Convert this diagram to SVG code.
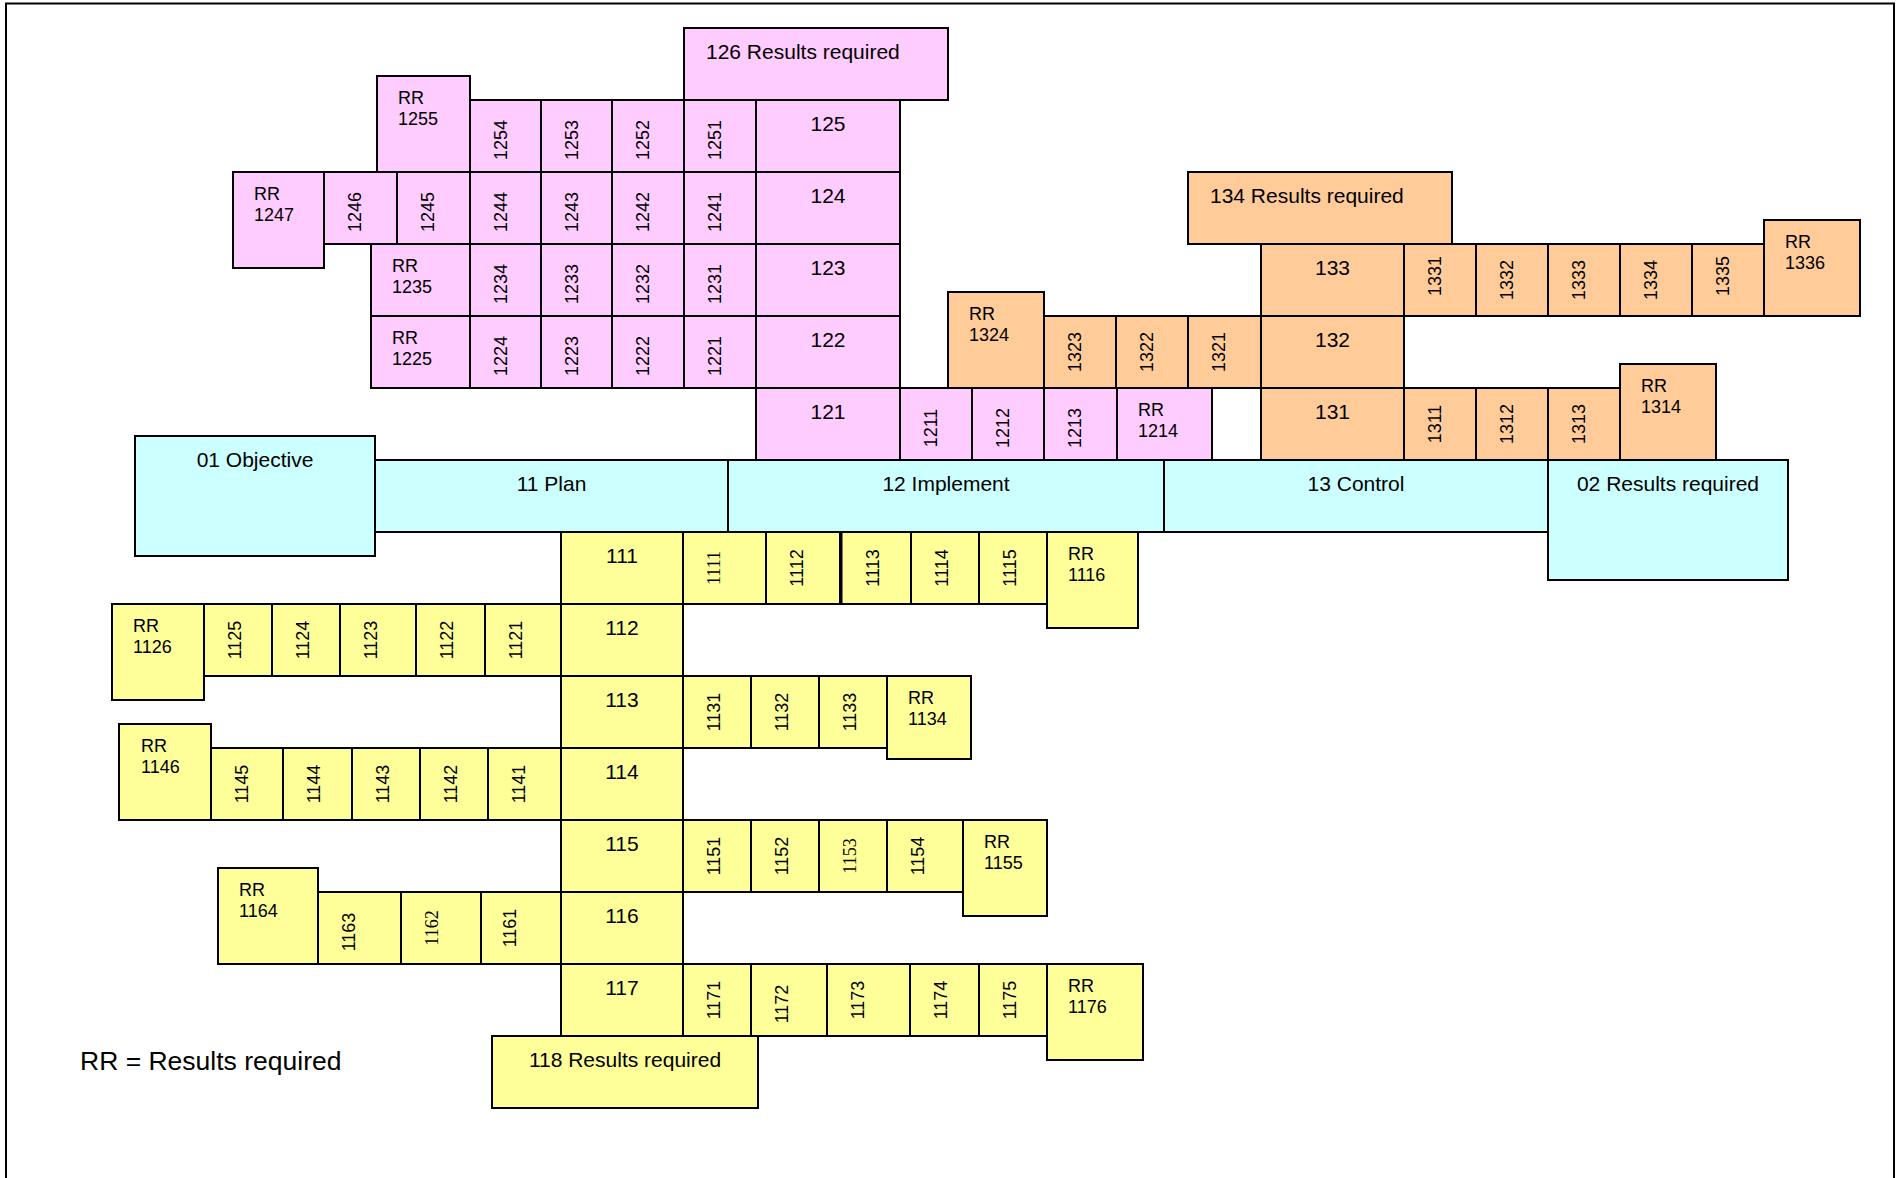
<svg xmlns="http://www.w3.org/2000/svg" width="1898" height="1178" viewBox="0 0 1898 1178">
<style>
rect{stroke:#000;stroke-width:2}
rect.bg{stroke:none;fill:#fff}
.p{fill:#FFCCFF}.o{fill:#FFCC99}.y{fill:#FFFF99}.c{fill:#CCFFFF}
text{font-family:"Liberation Sans",Arial,sans-serif;fill:#000}
.t{font-size:21px;text-anchor:middle}
.l{font-size:21px}
.r{font-size:18px}
.v{font-size:18px;text-anchor:middle}
.s{font-family:"Liberation Serif","Times New Roman",serif}
</style>
<rect class="bg" width="1898" height="1178"/>
<path d="M6,1178 V3.5 H1894 V1178" fill="none" stroke="#000" stroke-width="2"/>
<g id="connectors"/>

<!-- Pink: 12 Implement branch -->
<g id="n126"><rect class="p" x="684" y="28" width="264" height="72"/><text class="l" x="706" y="59">126 Results required</text></g>
<g id="n125"><rect class="p" x="756" y="100" width="144" height="72"/><text class="t" x="828" y="131">125</text></g>
<g id="n124"><rect class="p" x="756" y="172" width="144" height="72"/><text class="t" x="828" y="203">124</text></g>
<g id="n123"><rect class="p" x="756" y="244" width="144" height="72"/><text class="t" x="828" y="275">123</text></g>
<g id="n122"><rect class="p" x="756" y="316" width="144" height="72"/><text class="t" x="828" y="347">122</text></g>
<g id="n121"><rect class="p" x="756" y="388" width="144" height="72"/><text class="t" x="828" y="419">121</text></g>

<g id="n1251"><rect class="p" x="684" y="100" width="72" height="72"/><text class="v" x="721" y="140" transform="rotate(-90 721 140)">1251</text></g>
<g id="n1252"><rect class="p" x="612" y="100" width="72" height="72"/><text class="v" x="649" y="140" transform="rotate(-90 649 140)">1252</text></g>
<g id="n1253"><rect class="p" x="541" y="100" width="71" height="72"/><text class="v" x="578" y="140" transform="rotate(-90 578 140)">1253</text></g>
<g id="n1254"><rect class="p" x="470" y="100" width="71" height="72"/><text class="v" x="507" y="140" transform="rotate(-90 507 140)">1254</text></g>
<g id="n1255"><rect class="p" x="377" y="76" width="93" height="96"/><text class="r" x="398" y="104">RR</text><text class="r" x="398" y="125">1255</text></g>

<g id="n1241"><rect class="p" x="684" y="172" width="72" height="72"/><text class="v" x="721" y="212" transform="rotate(-90 721 212)">1241</text></g>
<g id="n1242"><rect class="p" x="612" y="172" width="72" height="72"/><text class="v" x="649" y="212" transform="rotate(-90 649 212)">1242</text></g>
<g id="n1243"><rect class="p" x="541" y="172" width="71" height="72"/><text class="v" x="578" y="212" transform="rotate(-90 578 212)">1243</text></g>
<g id="n1244"><rect class="p" x="470" y="172" width="71" height="72"/><text class="v" x="507" y="212" transform="rotate(-90 507 212)">1244</text></g>
<g id="n1245"><rect class="p" x="397" y="172" width="73" height="72"/><text class="v" x="434" y="212" transform="rotate(-90 434 212)">1245</text></g>
<g id="n1246"><rect class="p" x="324" y="172" width="73" height="72"/><text class="v" x="361" y="212" transform="rotate(-90 361 212)">1246</text></g>
<g id="n1247"><rect class="p" x="233" y="172" width="91" height="96"/><text class="r" x="254" y="200">RR</text><text class="r" x="254" y="221">1247</text></g>

<g id="n1231"><rect class="p" x="684" y="244" width="72" height="72"/><text class="v" x="721" y="284" transform="rotate(-90 721 284)">1231</text></g>
<g id="n1232"><rect class="p" x="612" y="244" width="72" height="72"/><text class="v" x="649" y="284" transform="rotate(-90 649 284)">1232</text></g>
<g id="n1233"><rect class="p" x="541" y="244" width="71" height="72"/><text class="v" x="578" y="284" transform="rotate(-90 578 284)">1233</text></g>
<g id="n1234"><rect class="p" x="470" y="244" width="71" height="72"/><text class="v" x="507" y="284" transform="rotate(-90 507 284)">1234</text></g>
<g id="n1235"><rect class="p" x="371" y="244" width="99" height="72"/><text class="r" x="392" y="272">RR</text><text class="r" x="392" y="293">1235</text></g>

<g id="n1221"><rect class="p" x="684" y="316" width="72" height="72"/><text class="v" x="721" y="356" transform="rotate(-90 721 356)">1221</text></g>
<g id="n1222"><rect class="p" x="612" y="316" width="72" height="72"/><text class="v" x="649" y="356" transform="rotate(-90 649 356)">1222</text></g>
<g id="n1223"><rect class="p" x="541" y="316" width="71" height="72"/><text class="v" x="578" y="356" transform="rotate(-90 578 356)">1223</text></g>
<g id="n1224"><rect class="p" x="470" y="316" width="71" height="72"/><text class="v" x="507" y="356" transform="rotate(-90 507 356)">1224</text></g>
<g id="n1225"><rect class="p" x="371" y="316" width="99" height="72"/><text class="r" x="392" y="344">RR</text><text class="r" x="392" y="365">1225</text></g>

<g id="n1211"><rect class="p" x="900" y="388" width="72" height="72"/><text class="v" x="937" y="428" transform="rotate(-90 937 428)">1211</text></g>
<g id="n1212"><rect class="p" x="972" y="388" width="72" height="72"/><text class="v" x="1009" y="428" transform="rotate(-90 1009 428)">1212</text></g>
<g id="n1213"><rect class="p" x="1044" y="388" width="73" height="72"/><text class="v" x="1081" y="428" transform="rotate(-90 1081 428)">1213</text></g>
<g id="n1214"><rect class="p" x="1117" y="388" width="95" height="72"/><text class="r" x="1138" y="416">RR</text><text class="r" x="1138" y="437">1214</text></g>

<!-- Orange: 13 Control branch -->
<g id="n134"><rect class="o" x="1188" y="172" width="264" height="72"/><text class="l" x="1210" y="203">134 Results required</text></g>
<g id="n133"><rect class="o" x="1261" y="244" width="143" height="72"/><text class="t" x="1332.5" y="275">133</text></g>
<g id="n132"><rect class="o" x="1261" y="316" width="143" height="72"/><text class="t" x="1332.5" y="347">132</text></g>
<g id="n131"><rect class="o" x="1261" y="388" width="143" height="72"/><text class="t" x="1332.5" y="419">131</text></g>

<g id="n1331"><rect class="o" x="1404" y="244" width="72" height="72"/><text class="v" x="1441" y="276" transform="rotate(-90 1441 276)">1331</text></g>
<g id="n1332"><rect class="o" x="1476" y="244" width="72" height="72"/><text class="v" x="1513" y="280" transform="rotate(-90 1513 280)">1332</text></g>
<g id="n1333"><rect class="o" x="1548" y="244" width="72" height="72"/><text class="v" x="1585" y="280" transform="rotate(-90 1585 280)">1333</text></g>
<g id="n1334"><rect class="o" x="1620" y="244" width="72" height="72"/><text class="v" x="1657" y="280" transform="rotate(-90 1657 280)">1334</text></g>
<g id="n1335"><rect class="o" x="1692" y="244" width="72" height="72"/><text class="v" x="1729" y="276" transform="rotate(-90 1729 276)">1335</text></g>
<g id="n1336"><rect class="o" x="1764" y="220" width="96" height="96"/><text class="r" x="1785" y="248">RR</text><text class="r" x="1785" y="269">1336</text></g>

<g id="n1321"><rect class="o" x="1188" y="316" width="73" height="72"/><text class="v" x="1225" y="352" transform="rotate(-90 1225 352)">1321</text></g>
<g id="n1322"><rect class="o" x="1116" y="316" width="72" height="72"/><text class="v" x="1153" y="352" transform="rotate(-90 1153 352)">1322</text></g>
<g id="n1323"><rect class="o" x="1044" y="316" width="72" height="72"/><text class="v" x="1081" y="352" transform="rotate(-90 1081 352)">1323</text></g>
<g id="n1324"><rect class="o" x="948" y="292" width="96" height="96"/><text class="r" x="969" y="320">RR</text><text class="r" x="969" y="341">1324</text></g>

<g id="n1311"><rect class="o" x="1404" y="388" width="72" height="72"/><text class="v" x="1441" y="424" transform="rotate(-90 1441 424)">1311</text></g>
<g id="n1312"><rect class="o" x="1476" y="388" width="72" height="72"/><text class="v" x="1513" y="424" transform="rotate(-90 1513 424)">1312</text></g>
<g id="n1313"><rect class="o" x="1548" y="388" width="72" height="72"/><text class="v" x="1585" y="424" transform="rotate(-90 1585 424)">1313</text></g>
<g id="n1314"><rect class="o" x="1620" y="364" width="96" height="96"/><text class="r" x="1641" y="392">RR</text><text class="r" x="1641" y="413">1314</text></g>

<!-- Cyan: main band -->
<g id="n01"><rect class="c" x="135" y="436" width="240" height="120"/><text class="t" x="255" y="467">01 Objective</text></g>
<g id="n11"><rect class="c" x="375" y="460" width="353" height="72"/><text class="t" x="551.5" y="491">11 Plan</text></g>
<g id="n12"><rect class="c" x="728" y="460" width="436" height="72"/><text class="t" x="946" y="491">12 Implement</text></g>
<g id="n13"><rect class="c" x="1164" y="460" width="384" height="72"/><text class="t" x="1356" y="491">13 Control</text></g>
<g id="n02"><rect class="c" x="1548" y="460" width="240" height="120"/><text class="t" x="1668" y="491">02 Results required</text></g>

<!-- Yellow: 11 Plan branch -->
<g id="n111"><rect class="y" x="561" y="532" width="122" height="72"/><text class="t" x="622" y="563">111</text></g>
<g id="n112"><rect class="y" x="561" y="604" width="122" height="72"/><text class="t" x="622" y="635">112</text></g>
<g id="n113"><rect class="y" x="561" y="676" width="122" height="72"/><text class="t" x="622" y="707">113</text></g>
<g id="n114"><rect class="y" x="561" y="748" width="122" height="72"/><text class="t" x="622" y="779">114</text></g>
<g id="n115"><rect class="y" x="561" y="820" width="122" height="72"/><text class="t" x="622" y="851">115</text></g>
<g id="n116"><rect class="y" x="561" y="892" width="122" height="72"/><text class="t" x="622" y="923">116</text></g>
<g id="n117"><rect class="y" x="561" y="964" width="122" height="72"/><text class="t" x="622" y="995">117</text></g>
<g id="n118"><rect class="y" x="492" y="1036" width="266" height="72"/><text class="t" x="625" y="1067">118 Results required</text></g>

<g id="n1111"><rect class="y" x="683" y="532" width="83" height="72"/><text class="v s" x="720" y="568" transform="rotate(-90 720 568)">1111</text></g>
<g id="n1112"><rect class="y" x="766" y="532" width="74" height="72"/><text class="v" x="803" y="568" transform="rotate(-90 803 568)">1112</text></g>
<g id="n1113"><rect class="y" x="841.5" y="532" width="69.5" height="72"/><text class="v" x="879" y="568" transform="rotate(-90 879 568)">1113</text></g>
<g id="n1114"><rect class="y" x="911" y="532" width="68" height="72"/><text class="v" x="948" y="568" transform="rotate(-90 948 568)">1114</text></g>
<g id="n1115"><rect class="y" x="979" y="532" width="68" height="72"/><text class="v" x="1016" y="568" transform="rotate(-90 1016 568)">1115</text></g>
<g id="n1116"><rect class="y" x="1047" y="532" width="91" height="96"/><text class="r" x="1068" y="560">RR</text><text class="r" x="1068" y="581">1116</text></g>

<g id="n1121"><rect class="y" x="485" y="604" width="76" height="72"/><text class="v" x="522" y="640" transform="rotate(-90 522 640)">1121</text></g>
<g id="n1122"><rect class="y" x="416" y="604" width="69" height="72"/><text class="v" x="453" y="640" transform="rotate(-90 453 640)">1122</text></g>
<g id="n1123"><rect class="y" x="340" y="604" width="76" height="72"/><text class="v" x="377" y="640" transform="rotate(-90 377 640)">1123</text></g>
<g id="n1124"><rect class="y" x="272" y="604" width="68" height="72"/><text class="v" x="309" y="640" transform="rotate(-90 309 640)">1124</text></g>
<g id="n1125"><rect class="y" x="204" y="604" width="68" height="72"/><text class="v" x="241" y="640" transform="rotate(-90 241 640)">1125</text></g>
<g id="n1126"><rect class="y" x="112" y="604" width="92" height="96"/><text class="r" x="133" y="632">RR</text><text class="r" x="133" y="653">1126</text></g>

<g id="n1131"><rect class="y" x="683" y="676" width="68" height="72"/><text class="v" x="720" y="712" transform="rotate(-90 720 712)">1131</text></g>
<g id="n1132"><rect class="y" x="751" y="676" width="68" height="72"/><text class="v" x="788" y="712" transform="rotate(-90 788 712)">1132</text></g>
<g id="n1133"><rect class="y" x="819" y="676" width="68" height="72"/><text class="v" x="856" y="712" transform="rotate(-90 856 712)">1133</text></g>
<g id="n1134"><rect class="y" x="887" y="676" width="84" height="83"/><text class="r" x="908" y="704">RR</text><text class="r" x="908" y="725">1134</text></g>

<g id="n1141"><rect class="y" x="488" y="748" width="73" height="72"/><text class="v" x="525" y="784" transform="rotate(-90 525 784)">1141</text></g>
<g id="n1142"><rect class="y" x="420" y="748" width="68" height="72"/><text class="v" x="457" y="784" transform="rotate(-90 457 784)">1142</text></g>
<g id="n1143"><rect class="y" x="352" y="748" width="68" height="72"/><text class="v" x="389" y="784" transform="rotate(-90 389 784)">1143</text></g>
<g id="n1144"><rect class="y" x="283" y="748" width="69" height="72"/><text class="v" x="320" y="784" transform="rotate(-90 320 784)">1144</text></g>
<g id="n1145"><rect class="y" x="211" y="748" width="72" height="72"/><text class="v" x="248" y="784" transform="rotate(-90 248 784)">1145</text></g>
<g id="n1146"><rect class="y" x="119" y="724" width="92" height="96"/><text class="r" x="141" y="752">RR</text><text class="r" x="141" y="773">1146</text></g>

<g id="n1151"><rect class="y" x="683" y="820" width="68" height="72"/><text class="v" x="720" y="856" transform="rotate(-90 720 856)">1151</text></g>
<g id="n1152"><rect class="y" x="751" y="820" width="68" height="72"/><text class="v" x="788" y="856" transform="rotate(-90 788 856)">1152</text></g>
<g id="n1153"><rect class="y" x="819" y="820" width="68" height="72"/><text class="v s" x="856" y="856" transform="rotate(-90 856 856)">1153</text></g>
<g id="n1154"><rect class="y" x="887" y="820" width="76" height="72"/><text class="v" x="924" y="856" transform="rotate(-90 924 856)">1154</text></g>
<g id="n1155"><rect class="y" x="963" y="820" width="84" height="96"/><text class="r" x="984" y="848">RR</text><text class="r" x="984" y="869">1155</text></g>

<g id="n1161"><rect class="y" x="481" y="892" width="80" height="72"/><text class="v" x="516" y="928" transform="rotate(-90 516 928)">1161</text></g>
<g id="n1162"><rect class="y" x="401" y="892" width="80" height="72"/><text class="v s" x="438" y="928" transform="rotate(-90 438 928)">1162</text></g>
<g id="n1163"><rect class="y" x="318" y="892" width="83" height="72"/><text class="v" x="355" y="932" transform="rotate(-90 355 932)">1163</text></g>
<g id="n1164"><rect class="y" x="218" y="868" width="100" height="96"/><text class="r" x="239" y="896">RR</text><text class="r" x="239" y="917">1164</text></g>

<g id="n1171"><rect class="y" x="683" y="964" width="68" height="72"/><text class="v" x="720" y="1000" transform="rotate(-90 720 1000)">1171</text></g>
<g id="n1172"><rect class="y" x="751" y="964" width="76" height="72"/><text class="v" x="788" y="1004" transform="rotate(-90 788 1004)">1172</text></g>
<g id="n1173"><rect class="y" x="827" y="964" width="83" height="72"/><text class="v" x="864" y="1000" transform="rotate(-90 864 1000)">1173</text></g>
<g id="n1174"><rect class="y" x="910" y="964" width="69" height="72"/><text class="v" x="947" y="1000" transform="rotate(-90 947 1000)">1174</text></g>
<g id="n1175"><rect class="y" x="979" y="964" width="68" height="72"/><text class="v" x="1016" y="1000" transform="rotate(-90 1016 1000)">1175</text></g>
<g id="n1176"><rect class="y" x="1047" y="964" width="96" height="96"/><text class="r" x="1068" y="992">RR</text><text class="r" x="1068" y="1013">1176</text></g>

<g id="legend"><text x="80" y="1070" font-size="26.5">RR = Results required</text></g>
</svg>
